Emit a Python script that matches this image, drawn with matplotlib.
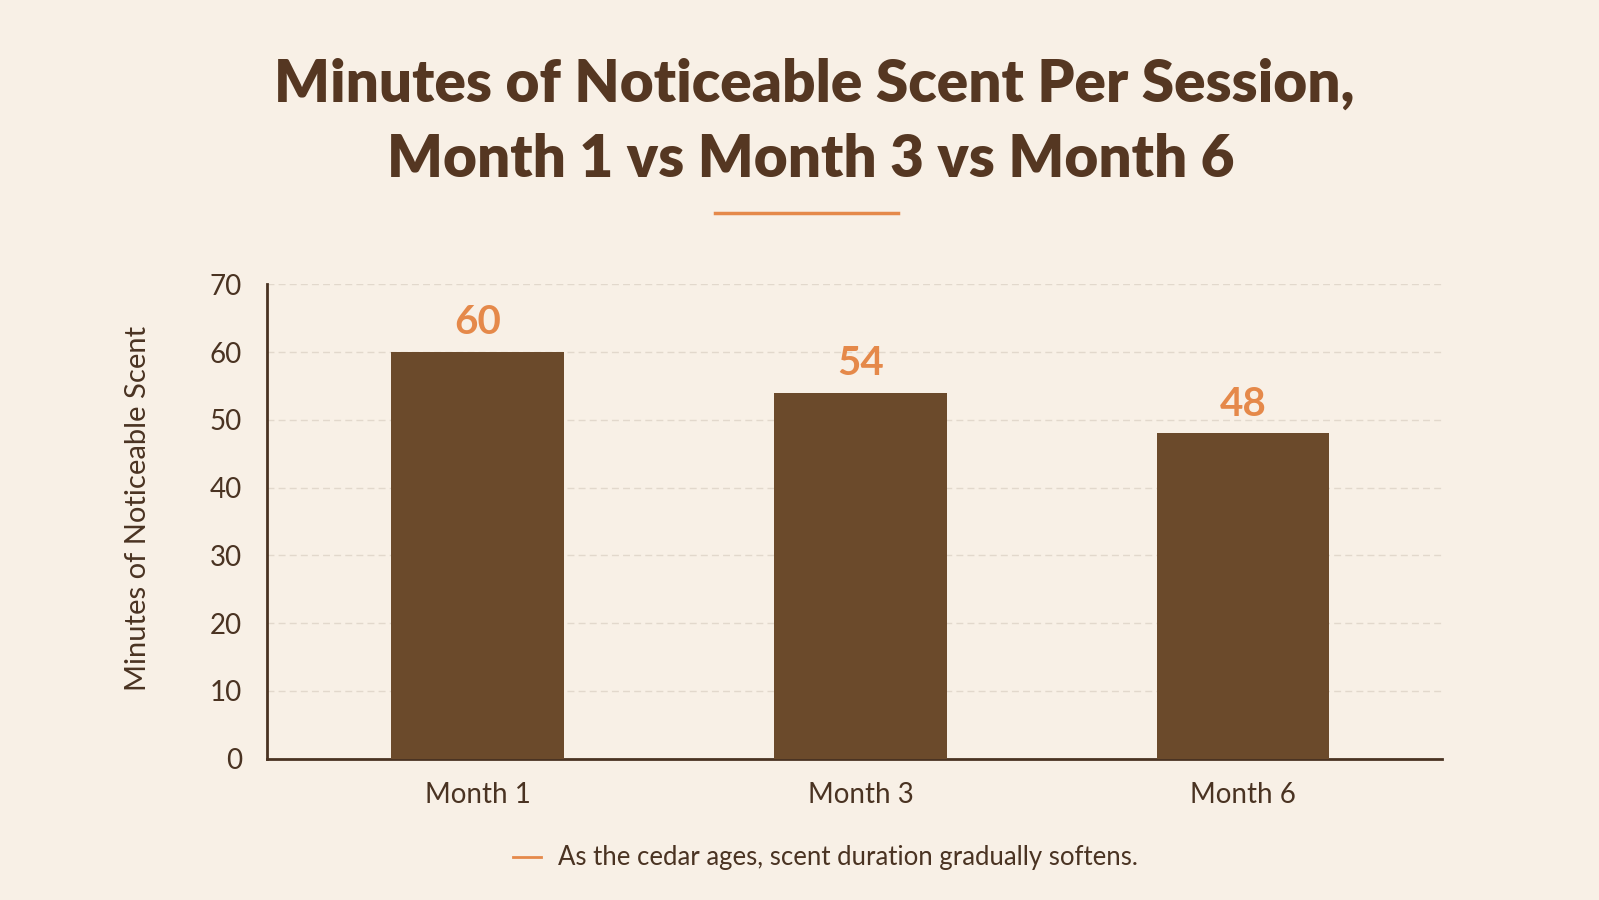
import matplotlib.pyplot as plt
from matplotlib.lines import Line2D

# Datos del gráfico
months = ["Month 1", "Month 3", "Month 6"]
minutes = [60, 54, 48]
y_ticks = [0, 10, 20, 30, 40, 50, 60, 70]

bg = "#f8f0e6"
brown = "#6b4a2b"
dark = "#4a3322"
orange = "#e5894a"

plt.rcParams['font.family'] = ['Lato', 'DejaVu Sans']

fig = plt.figure(figsize=(15.99, 9), dpi=100, facecolor=bg)
ax = fig.add_axes([0.167, 0.157, 0.735, 0.527])
ax.set_facecolor(bg)

x = range(len(months))
ax.bar(x, minutes, width=0.45, color=brown, zorder=3)

# Etiquetas de valor
for xi, v in zip(x, minutes):
    ax.text(xi, v + 1.6, str(v), color=orange, fontsize=29, fontweight="bold",
            ha="center", va="bottom", zorder=4)

ax.set_xlim(-0.55, 2.52)
ax.set_ylim(0, 70)
ax.set_yticks(y_ticks)
ax.set_xticks(list(x))
ax.set_xticklabels(months)
ax.tick_params(axis="both", length=0, colors=dark, labelsize=20)
ax.tick_params(axis="x", pad=17)
ax.tick_params(axis="y", pad=18)

ax.yaxis.grid(True, color="#e2d8cc", linestyle=(0, (5, 3)), linewidth=1, zorder=0)
for s in ["top", "right"]:
    ax.spines[s].set_visible(False)
for s in ["left", "bottom"]:
    ax.spines[s].set_color(dark)
    ax.spines[s].set_linewidth(2)

ax.set_ylabel("Minutes of Noticeable Scent", fontsize=21, color=dark)
ax.yaxis.set_label_coords(-0.099, 0.528)

# Título
fig.text(0.509, 0.907, "Minutes of Noticeable Scent Per Session,", ha="center", va="center",
         fontsize=42, fontweight="heavy", color="#553722")
fig.text(0.507, 0.823, "Month 1 vs Month 3 vs Month 6", ha="center", va="center",
         fontsize=42, fontweight="heavy", color="#553722")
fig.add_artist(Line2D([715 / 1599, 898 / 1599], [1 - 213 / 900] * 2, color=orange, linewidth=2.5))

# Nota al pie
fig.add_artist(Line2D([513 / 1599, 541 / 1599], [1 - 857 / 900] * 2, color=orange, linewidth=2))
fig.text(558 / 1599, 1 - 857 / 900, "As the cedar ages, scent duration gradually softens.",
         ha="left", va="center", fontsize=18.5, color=dark)

fig.savefig("out.png", dpi=100, facecolor=bg)
